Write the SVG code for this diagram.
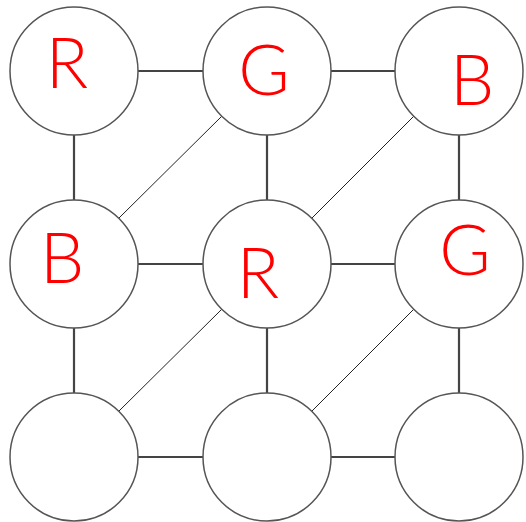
<svg xmlns="http://www.w3.org/2000/svg" width="526" height="522" viewBox="0 0 526 522">
  <style>
    .node { fill: #ffffff; stroke: #555555; stroke-width: 1.5; }
    .edge { stroke: #444444; stroke-width: 2.2; fill: none; }
    .diag { stroke: #222222; stroke-width: 1; fill: none; }
    .lbl { fill: #ff0000; font-family: "Lato", "Liberation Sans", sans-serif; font-weight: 300; font-size: 70px; text-anchor: middle; }
  </style>
  <rect width="526" height="522" fill="#ffffff"/>
  <g id="connectors">
    <!-- horizontal -->
    <line class="edge" x1="138" y1="71" x2="203" y2="71"/>
    <line class="edge" x1="331" y1="71" x2="395" y2="71"/>
    <line class="edge" x1="138" y1="264" x2="203" y2="264"/>
    <line class="edge" x1="331" y1="264" x2="395" y2="264"/>
    <line class="edge" x1="138" y1="457" x2="203" y2="457"/>
    <line class="edge" x1="331" y1="457" x2="395" y2="457"/>
    <!-- vertical -->
    <line class="edge" x1="74" y1="135" x2="74" y2="200"/>
    <line class="edge" x1="267" y1="135" x2="267" y2="200"/>
    <line class="edge" x1="459" y1="135" x2="459" y2="200"/>
    <line class="edge" x1="74" y1="328" x2="74" y2="393"/>
    <line class="edge" x1="267" y1="328" x2="267" y2="393"/>
    <line class="edge" x1="459" y1="328" x2="459" y2="393"/>
    <!-- diagonals -->
    <line class="diag" x1="222" y1="116" x2="119" y2="218"/>
    <line class="diag" x1="414" y1="116" x2="312" y2="218"/>
    <line class="diag" x1="222" y1="309" x2="119" y2="411"/>
    <line class="diag" x1="414" y1="309" x2="312" y2="411"/>
  </g>
  <g id="n00"><circle class="node" cx="74" cy="71" r="64"/><text class="lbl" x="67" y="88">R</text></g>
  <g id="n01"><circle class="node" cx="267" cy="71" r="64"/><text class="lbl" x="264" y="95">G</text></g>
  <g id="n02"><circle class="node" cx="459" cy="71" r="64"/><text class="lbl" x="472" y="105">B</text></g>
  <g id="n10"><circle class="node" cx="74" cy="264" r="64"/><text class="lbl" x="62" y="283">B</text></g>
  <g id="n11"><circle class="node" cx="267" cy="264" r="64"/><text class="lbl" x="258" y="298">R</text></g>
  <g id="n12"><circle class="node" cx="459" cy="264" r="64"/><text class="lbl" x="465" y="275">G</text></g>
  <g id="n20"><circle class="node" cx="74" cy="457" r="64"/></g>
  <g id="n21"><circle class="node" cx="267" cy="457" r="64"/></g>
  <g id="n22"><circle class="node" cx="459" cy="457" r="64"/></g>
</svg>
